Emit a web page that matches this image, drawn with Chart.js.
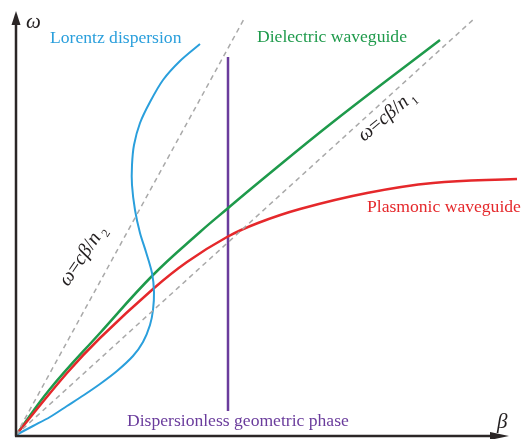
<!DOCTYPE html>
<html>
<head>
<meta charset="utf-8">
<script src="https://cdn.jsdelivr.net/npm/chart.js@4.4.0/dist/chart.umd.min.js"></script>
<style>
  html, body { margin: 0; padding: 0; background: #fff; }
  #wrap { width: 522px; height: 439px; }
</style>
</head>
<body>
<div id="wrap"><canvas id="dispersion" width="522" height="439"></canvas></div>
<script>
// propagation constant (beta) and frequency (omega), arbitrary units
const lorentzBeta  = [0, 17, 34, 51, 68, 84, 101, 117, 127, 134, 137, 138, 136, 130, 124, 119, 116, 116, 118, 124, 134, 147, 164, 184];
const lorentzOmega = [0, 9, 18, 29, 40, 51, 64, 79, 93, 110, 125, 143, 162, 183, 202, 225, 250, 270, 290, 312, 333, 355, 374, 391];

const dielectricBeta  = [0, 34, 84, 137, 184, 211, 242, 317, 424];
const dielectricOmega = [0, 46, 102, 160, 203, 226, 252, 313, 395];

const plasmonicBeta  = [0, 51, 84, 137, 171, 211, 242, 284, 351, 417, 501];
const plasmonicOmega = [0, 62, 97, 146, 173, 198, 212, 226, 242, 252, 256];

// light lines in the two media
const lightN1Beta  = [0, 459];
const lightN1Omega = [0, 417];
const lightN2Beta  = [0, 228];
const lightN2Omega = [0, 416];

// geometric phase: constant beta
const geometricBeta  = [212, 212];
const geometricOmega = [24, 378];

const BETA_MAX = 502;
const OMEGA_MAX = 423;

const SERIF = "'Liberation Serif', 'DejaVu Serif', serif";

function toPoints(xs, ys) {
    return xs.map((x, i) => ({ x: x, y: ys[i] }));
}

function curve(xs, ys, color, width, extra) {
    return Object.assign({
        data: toPoints(xs, ys),
        showLine: true,
        borderColor: color,
        backgroundColor: color,
        borderWidth: width,
        pointRadius: 0,
        pointHoverRadius: 0,
        fill: false,
        clip: false,
        tension: 0.4
    }, extra || {});
}

// draw a run of text pieces; each piece may change style and baseline offset
function drawRun(ctx, pieces, x, y) {
    let cx = x;
    pieces.forEach(p => {
        ctx.font = p.font;
        ctx.fillText(p.text, cx, y + (p.dy || 0));
        cx += ctx.measureText(p.text).width + (p.gap || 0);
    });
}

function lightLineLabel(sub) {
    const it = 'italic 20px ' + SERIF;
    const up = '20px ' + SERIF;
    return [
        { text: 'ω', font: it },
        { text: '=', font: up },
        { text: 'cβ', font: it },
        { text: '/', font: up },
        { text: 'n', font: it, gap: 3 },
        { text: sub, font: '12px ' + SERIF, dy: 5 }
    ];
}

const annotations = {
    id: 'annotations',
    afterDraw(chart) {
        const ctx = chart.ctx;
        const xs = chart.scales.x, ys = chart.scales.y;
        const px = v => xs.getPixelForValue(v);
        const py = v => ys.getPixelForValue(v);
        const ox = px(0), oy = py(0);

        ctx.save();
        // axes with arrow heads
        ctx.strokeStyle = '#2b2626';
        ctx.fillStyle = '#2b2626';
        ctx.lineWidth = 2.5;
        ctx.beginPath();
        ctx.moveTo(ox, oy + 1.5);
        ctx.lineTo(ox, py(OMEGA_MAX) + 10);
        ctx.moveTo(ox - 1, oy + 1);
        ctx.lineTo(px(478), oy + 1);
        ctx.stroke();

        ctx.beginPath();
        ctx.moveTo(ox, py(OMEGA_MAX) - 1);
        ctx.lineTo(ox - 4.5, py(OMEGA_MAX) + 13);
        ctx.lineTo(ox + 4.5, py(OMEGA_MAX) + 13);
        ctx.closePath();
        ctx.fill();

        ctx.beginPath();
        ctx.moveTo(px(493), oy + 1);
        ctx.lineTo(px(474), oy - 3);
        ctx.lineTo(px(474), oy + 5);
        ctx.closePath();
        ctx.fill();

        // axis symbols
        ctx.fillStyle = '#231f20';
        ctx.textBaseline = 'alphabetic';
        ctx.font = 'italic 21px ' + SERIF;
        ctx.fillText('ω', px(10), py(407));
        ctx.fillText('β', px(481), py(7));

        // curve names
        ctx.font = '17.6px ' + SERIF;
        ctx.fillStyle = '#2a9fdc';
        ctx.fillText('Lorentz dispersion', px(34), py(392));
        ctx.fillStyle = '#1e9a4b';
        ctx.fillText('Dielectric waveguide', px(241), py(393));
        ctx.fillStyle = '#e5282b';
        ctx.fillText('Plasmonic waveguide', px(351), py(223));
        ctx.fillStyle = '#6a3c9c';
        ctx.fillText('Dispersionless geometric phase', px(111), py(9));

        // light line labels, rotated along the dashed lines
        ctx.fillStyle = '#231f20';
        ctx.save();
        ctx.translate(px(348), py(293));
        ctx.rotate(-40 * Math.PI / 180);
        drawRun(ctx, lightLineLabel('1'), 0, 0);
        ctx.restore();

        ctx.save();
        ctx.translate(px(52), py(148));
        ctx.rotate(-56 * Math.PI / 180);
        drawRun(ctx, lightLineLabel('2'), 0, 0);
        ctx.restore();

        ctx.restore();
    }
};

new Chart(document.getElementById('dispersion'), {
    type: 'scatter',
    data: {
        datasets: [
            curve(lightN2Beta, lightN2Omega, '#a9a9a9', 1.5, { borderDash: [5, 4], tension: 0 }),
            curve(lightN1Beta, lightN1Omega, '#a9a9a9', 1.5, { borderDash: [5, 4], tension: 0 }),
            curve(lorentzBeta, lorentzOmega, '#2a9fdc', 2, { tension: 0.3 }),
            curve(plasmonicBeta, plasmonicOmega, '#e5282b', 2.5),
            curve(dielectricBeta, dielectricOmega, '#1e9a4b', 2.5),
            curve(geometricBeta, geometricOmega, '#6a3c9c', 2.5, { tension: 0 })
        ]
    },
    options: {
        responsive: false,
        animation: false,
        devicePixelRatio: 1,
        layout: { padding: { left: 16, right: 4, top: 12, bottom: 4 } },
        plugins: {
            legend: { display: false },
            tooltip: { enabled: false }
        },
        scales: {
            x: { type: 'linear', min: 0, max: BETA_MAX, display: false },
            y: { type: 'linear', min: 0, max: OMEGA_MAX, display: false }
        }
    },
    plugins: [annotations]
});
</script>
</body>
</html>
